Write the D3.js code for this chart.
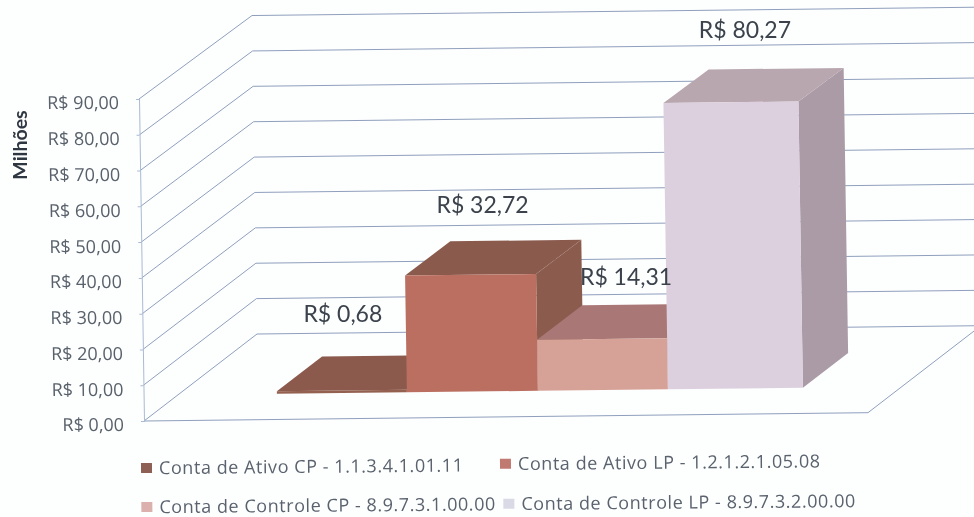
<!DOCTYPE html>
<html>
<head>
<meta charset="utf-8">
<script src="https://cdn.jsdelivr.net/npm/d3@7"></script>
<style>
html, body { margin: 0; background: #fdfefe; }
svg { display: block; filter: blur(0.45px); font-family: "Open Sans", "Noto Sans", sans-serif; }
</style>
</head>
<body>
<svg id="chart" width="974" height="517"></svg>
<script>
// Values are in millions of R$
var seriesNames = [
    'Conta de Ativo CP - 1.1.3.4.1.01.11',
    'Conta de Ativo LP - 1.2.1.2.1.05.08',
    'Conta de Controle CP - 8.9.7.3.1.00.00',
    'Conta de Controle LP - 8.9.7.3.2.00.00'
];
var seriesValues = [0.68, 32.72, 14.31, 80.27];
var dataLabels = ['R$ 0,68', 'R$ 32,72', 'R$ 14,31', 'R$ 80,27'];
var axisTicks = [0, 10, 20, 30, 40, 50, 60, 70, 80, 90];

var frontColors = ['#94604f', '#bb6f60', '#d6a297', '#dcd0de'];
var topColors = ['#8b5a4d', '#8a5a4c', '#a97876', '#b9a7af'];
var sideColors = ['#875648', '#8b5b4e', '#a57471', '#ab9ba7'];
var swatchColors = ['#8e5f55', '#c07a70', '#dcb0ac', '#d9dae6'];

var svg = d3.select('#chart');

// Oblique projection of the 3D box: u along the floor, v = value, t = depth (0 front, 1 back)
var originX = 144, originY = 421;
var valueY = d3.scaleLinear().domain([0, 90]).range([0, 322]);
var lean = d3.scaleLinear().domain([0, 90]).range([0, 5]);
var depthX = d3.scaleLinear().domain([0, 1]).range([0, 113]);
var depthY = d3.scaleLinear().domain([0, 1]).range([0, 87]);
var floorWidth = 724;

function project(u, v, t) {
    return [
        originX + u + depthX(t) - lean(v),
        originY - 0.0115*u - depthY(t) - valueY(v)*(1 - 0.011*t)
    ];
}

var line = d3.line();
var poly = (pts) => line(pts) + 'Z';

// Walls and floor:
var grid = svg.append('g').attr('fill', 'none').attr('stroke', '#8f9fbd').attr('stroke-width', 1);
grid.selectAll('path.gridline').data(axisTicks).enter().append('path')
    .classed('gridline', true)
    .attr('d', (d) => line([project(0, d, 0), project(0, d, 1), project(floorWidth, d, 1)]));
grid.append('path')
    .attr('d', line([project(0, 0, 0), project(floorWidth, 0, 0), project(floorWidth, 0, 1)]));

// Value axis, sheared to follow the lean of the box:
var yScale = d3.scaleLinear().domain([0, 90]).range([originY, originY - valueY(90)]);
var axisShear = lean(90)/valueY(90);
var axis = svg.append('g')
    .attr('transform', 'matrix(1,0,' + axisShear + ',1,' + (originX - originY*axisShear) + ',0)')
    .call(d3.axisLeft(yScale).tickValues(axisTicks).tickSize(3).tickPadding(17)
        .tickFormat((d) => 'R$ ' + d3.format('.2f')(d).replace('.', ',')));
axis.attr('font-family', null);
axis.selectAll('path, line').attr('stroke', '#a9bad4');
axis.selectAll('text')
    .attr('fill', '#59616b')
    .attr('font-size', 18)
    .attr('dy', '0.55em');

svg.append('text')
    .attr('transform', 'translate(27,145) rotate(-90)')
    .attr('text-anchor', 'middle')
    .attr('fill', '#2f3742')
    .attr('font-family', 'Lato')
    .attr('font-size', 19.5)
    .attr('font-weight', 'bold')
    .text('Milhões');

// Bars, back to front along the floor:
var barEdge = d3.scaleLinear().domain([0, 1, 2, 3, 4]).range([99, 229, 360, 490, 625]);
var barFront = 0.3, barBack = 0.7;

var bars = svg.selectAll('g.bar').data(seriesValues).enter().append('g').classed('bar', true);
bars.append('path')
    .attr('fill', (d, i) => sideColors[i])
    .attr('d', (d, i) => {
        var r = barEdge(i + 1);
        return poly([project(r, 0, barFront), project(r, d, barFront), project(r, d, barBack), project(r, 0, barBack)]);
    });
bars.append('path')
    .attr('fill', (d, i) => topColors[i])
    .attr('d', (d, i) => {
        var l = barEdge(i), r = barEdge(i + 1);
        return poly([project(l, d, barFront), project(r, d, barFront), project(r, d, barBack), project(l, d, barBack)]);
    });
bars.append('path')
    .attr('fill', (d, i) => frontColors[i])
    .attr('d', (d, i) => {
        var l = barEdge(i), r = barEdge(i + 1);
        return poly([project(l, 0, barFront), project(r, 0, barFront), project(r, d, barFront), project(l, d, barFront)]);
    });

// Data labels were placed by hand in the original, so each has its own offset:
var labelShift = [[1, -69], [12, -63], [24, -55], [14, -65]];
svg.selectAll('text.datalabel').data(seriesValues).enter().append('text')
    .classed('datalabel', true)
    .attr('text-anchor', 'middle')
    .attr('fill', '#3b424b')
    .attr('font-family', 'Lato')
    .attr('font-size', 23)
    .attr('x', (d, i) => (project(barEdge(i), d, barFront)[0] + project(barEdge(i + 1), d, barFront)[0])/2 + labelShift[i][0])
    .attr('y', (d, i) => project(barEdge(i), d, barFront)[1] + labelShift[i][1])
    .text((d, i) => dataLabels[i]);

// Legend (the scan is slightly rotated):
var legendX = [141, 500, 141, 503];
var legendY = [468, 467, 507, 507];
var legend = svg.append('g').attr('transform', 'rotate(-0.5 141 467)');
var items = legend.selectAll('g').data(seriesNames).enter().append('g')
    .attr('transform', (d, i) => 'translate(' + legendX[i] + ',' + legendY[i] + ')');
items.append('rect')
    .attr('y', -5).attr('width', 11).attr('height', 10)
    .attr('fill', (d, i) => swatchColors[i]);
items.append('text')
    .attr('x', 18).attr('dy', '0.35em')
    .attr('fill', '#5a626e')
    .attr('font-size', 18)
    .attr('letter-spacing', 0.55)
    .text((d) => d);
</script>
</body>
</html>
